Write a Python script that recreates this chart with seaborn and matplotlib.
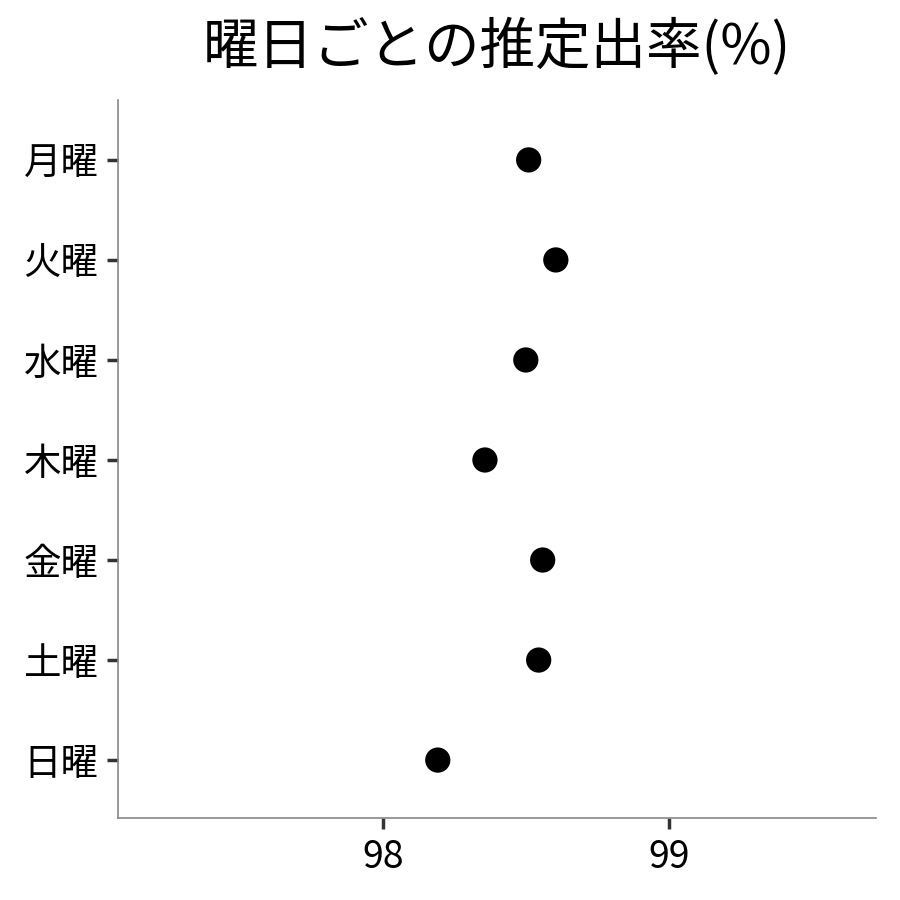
import matplotlib
matplotlib.use("Agg")
import matplotlib.pyplot as plt
import seaborn as sns
import pandas as pd

sns.set_theme(style="white")
plt.rcParams["font.family"] = ["Noto Sans CJK JP", "DejaVu Sans"]

days = ["月曜", "火曜", "水曜", "木曜", "金曜", "土曜", "日曜"]
rates = [98.51, 98.605, 98.50, 98.357, 98.559, 98.545, 98.192]
xticks = [98, 99]

df = pd.DataFrame({"day": days, "rate": rates})

fig = plt.figure(figsize=(9, 9), dpi=100)
ax = fig.add_axes([0.131, 0.091, 0.842, 0.798])

sns.scatterplot(data=df, x="rate", y="day", color="black", s=330,
                edgecolor="none", ax=ax, legend=False)

ax.set_xlim(97.073, 99.724)
ax.set_ylim(6.58, -0.6)
ax.set_xticks(xticks)
ax.set_xticklabels([str(t) for t in xticks])
ax.set_xlabel("")
ax.set_ylabel("")

for side in ["top", "right"]:
    ax.spines[side].set_visible(False)
for side in ["left", "bottom"]:
    ax.spines[side].set_color("#888888")
    ax.spines[side].set_linewidth(1.2)

ax.tick_params(axis="both", which="major", length=8, width=2.5,
               color="#333333", labelsize=27, labelcolor="black", pad=6,
               left=True, bottom=True)

fig.suptitle("曜日ごとの推定出率(%)", fontsize=40, x=0.552, y=0.979,
             va="top", color="black")

fig.savefig("out.png", dpi=100)
